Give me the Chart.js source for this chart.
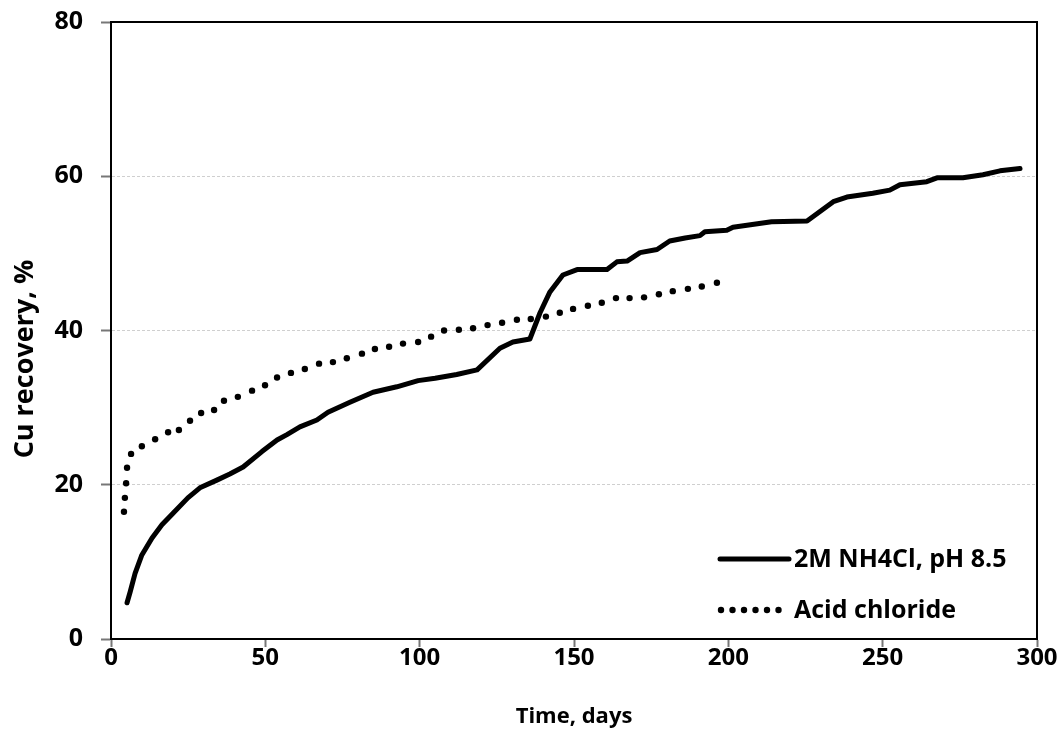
<!DOCTYPE html>
<html lang="en">
<head>
<meta charset="UTF-8">
<title>Cu recovery</title>
<script src="https://cdn.jsdelivr.net/npm/chart.js"></script>
<style>
  body { margin: 0; background: #fff; }
</style>
</head>
<body>
<canvas id="myChart" width="1061" height="734"></canvas>
<script>
// 2M NH4Cl, pH 8.5 (solid line)
var nh4Days = [5.2, 6.2, 7.8, 10, 13.3, 16.5, 20.1, 24.9, 28.8, 34.3, 38.5, 42.8, 48.9, 53.8, 57, 61.2,
  66.7, 70.3, 77.4, 84.9, 92.6, 99.5, 105, 112, 118.6, 126, 130.2, 135.7, 139, 142.2, 146.4, 151,
  160.7, 163.9, 167.2, 171.4, 176.9, 181, 186, 190.8, 192.4, 199.5, 201.5, 214, 225.5, 234, 238.4,
  246.8, 252.3, 255.6, 264.3, 267.6, 276, 282.5, 288, 294.5];
var nh4Recovery = [4.7, 6.1, 8.5, 10.9, 13.1, 14.8, 16.3, 18.3, 19.6, 20.6, 21.4, 22.3, 24.3, 25.8, 26.5, 27.5,
  28.4, 29.4, 30.7, 32.0, 32.7, 33.5, 33.8, 34.3, 34.9, 37.7, 38.5, 38.9, 42.3, 45.0, 47.2, 47.9,
  47.9, 48.9, 49.0, 50.1, 50.5, 51.6, 52.0, 52.3, 52.8, 53.0, 53.4, 54.1, 54.2, 56.7, 57.3,
  57.8, 58.2, 58.9, 59.3, 59.8, 59.8, 60.2, 60.7, 61.0];

// Acid chloride (dotted)
var acidDays = [4.2, 4.5, 4.9, 5.2, 6.5, 10, 14.3, 18.5, 22, 25.6, 29.2, 33.4, 36.6, 41.1, 45.7, 49.9,
  53.8, 58.3, 62.8, 67.4, 71.9, 76.4, 81.3, 85.5, 90.1, 94.6, 99.5, 103.7, 107.9, 112.7, 117.3, 122,
  126.7, 131.5, 136, 140.9, 145.4, 149.7, 154.5, 159, 163.6, 168, 172.7, 177.5, 182, 186.9, 191.4, 196.3];
var acidRecovery = [16.5, 18.3, 20.2, 22.2, 24.0, 25.0, 25.9, 26.8, 27.1, 28.3, 29.3, 29.7, 30.9, 31.4, 32.2, 32.9,
  33.9, 34.5, 35.0, 35.7, 35.9, 36.4, 37.0, 37.6, 37.9, 38.3, 38.5, 39.2, 40.0, 40.1, 40.3, 40.7,
  41.0, 41.4, 41.5, 41.8, 42.3, 42.8, 43.2, 43.6, 44.2, 44.2, 44.3, 44.7, 45.1, 45.4, 45.7, 46.2];

var seriesLabels = ['2M NH4Cl, pH 8.5', 'Acid chloride'];
var xTitle = 'Time, days';
var yTitle = 'Cu recovery, %';

function toPoints(xs, ys) {
  return xs.map(function (x, i) { return { x: x, y: ys[i] }; });
}

var boldFont = "'Open Sans', 'DejaVu Sans', sans-serif";

// box around the plot area + y title (sits a bit below the axis middle)
var frame = {
  id: 'frame',
  beforeDatasetsDraw: function (chart) {
    var a = chart.chartArea, ctx = chart.ctx;
    ctx.save();
    ctx.strokeStyle = '#000';
    ctx.lineWidth = 2;
    ctx.strokeRect(a.left, a.top, a.right - a.left, a.bottom - a.top);
    ctx.translate(25, 359);
    ctx.rotate(-Math.PI / 2);
    ctx.font = 'bold 27px ' + boldFont;
    ctx.fillStyle = '#000';
    ctx.textAlign = 'center';
    ctx.textBaseline = 'middle';
    ctx.fillText(yTitle, 0, 0);
    ctx.restore();
  }
};

// legend inside the plot, bottom right
var insideLegend = {
  id: 'insideLegend',
  afterDatasetsDraw: function (chart) {
    var ctx = chart.ctx;
    ctx.save();
    ctx.font = 'bold 25px ' + boldFont;
    ctx.textBaseline = 'middle';
    ctx.fillStyle = '#000';
    chart.data.datasets.forEach(function (ds, i) {
      var y = 559 + i * 51;
      if (ds.showLine === false) {
        for (var k = 0; k < 6; k++) {
          ctx.beginPath();
          ctx.arc(721 + k * 11.5, y, 3.2, 0, Math.PI * 2);
          ctx.fill();
        }
      } else {
        ctx.beginPath();
        ctx.lineWidth = 5;
        ctx.strokeStyle = '#000';
        ctx.lineCap = 'round';
        ctx.moveTo(720, y);
        ctx.lineTo(789, y);
        ctx.stroke();
      }
      ctx.fillText(ds.label, 794, y + 1);
    });
    ctx.restore();
  }
};

var ctx = document.getElementById('myChart').getContext('2d');
var myChart = new Chart(ctx, {
  type: 'line',
  data: {
    datasets: [{
      label: seriesLabels[0],
      data: toPoints(nh4Days, nh4Recovery),
      borderColor: '#000',
      borderWidth: 5,
      borderJoinStyle: 'round',
      borderCapStyle: 'round',
      pointRadius: 0,
      tension: 0
    }, {
      label: seriesLabels[1],
      data: toPoints(acidDays, acidRecovery),
      showLine: false,
      pointRadius: 3.2,
      pointBackgroundColor: '#000',
      pointBorderWidth: 0
    }]
  },
  options: {
    responsive: false,
    animation: false,
    layout: { padding: { left: 10, top: 22, right: 24, bottom: 0 } },
    plugins: {
      legend: { display: false },
      tooltip: { enabled: false }
    },
    scales: {
      x: {
        type: 'linear',
        min: 0,
        max: 300,
        afterFit: function (s) { s.height = 95; },
        ticks: {
          stepSize: 50,
          color: '#000',
          padding: -3,
          font: { family: boldFont, size: 24, weight: 'bold' }
        },
        grid: { drawOnChartArea: false, tickLength: 8, tickColor: '#777', tickWidth: 2 },
        border: { color: '#000', width: 2 },
        title: {
          display: true,
          text: xTitle,
          color: '#000',
          padding: { top: 4 },
          font: { family: boldFont, size: 22, weight: 'bold' }
        }
      },
      y: {
        min: 0,
        max: 80,
        afterFit: function (s) { s.width = 101; s.paddingTop = 0; s.paddingBottom = 0; },
        ticks: {
          stepSize: 20,
          color: '#000',
          padding: 18,
          font: { family: boldFont, size: 25, weight: 'bold' }
        },
        grid: {
          color: function (c) {
            var v = c.tick ? c.tick.value : 0;
            return (v > 0 && v < 80) ? '#cfcfcf' : 'rgba(0,0,0,0)';
          },
          lineWidth: 1,
          tickLength: 10,
          tickColor: '#777',
          tickWidth: 2
        },
        border: { color: '#000', width: 2, dash: [3, 2] }
      }
    }
  },
  plugins: [frame, insideLegend]
});
</script>
</body>
</html>
